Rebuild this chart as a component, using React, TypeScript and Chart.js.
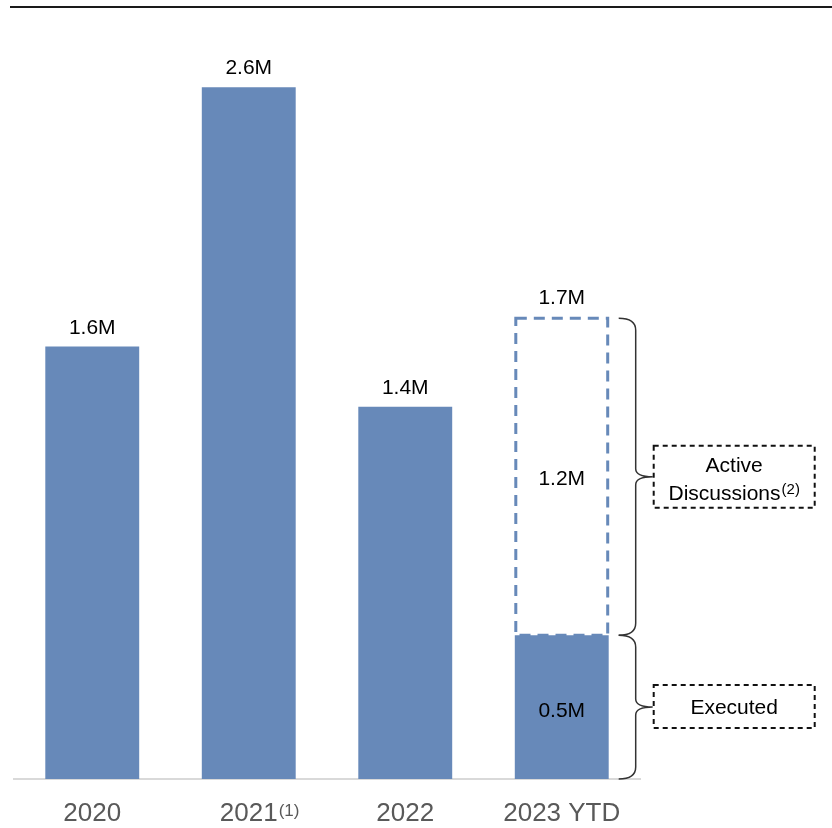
import React, { useEffect, useRef } from "react";
import { Chart, registerables } from "chart.js";

Chart.register(...registerables);

const categories = ["2020", "2021", "2022", "2023 YTD"];
const categoryNotes = ["", "(1)", "", ""];
const executed = [1.624, 2.598, 1.398, 0.54];
const activeDiscussions = [null, null, null, 1.19];
const annotationActive = ["Active", "Discussions"];
const annotationActiveNote = "(2)";
const annotationExecuted = "Executed";

const BAR_COLOR = "#6789B9";
const FONT = "'Liberation Sans', Arial, sans-serif";

const fmt = (v: number) => v.toFixed(1) + "M";

function drawBrace(ctx: CanvasRenderingContext2D, x0: number, yTop: number, yBot: number) {
  const xv = x0 + 17;
  const xt = xv + 17;
  const r = 12;
  const ym = (yTop + yBot) / 2;
  ctx.beginPath();
  ctx.moveTo(x0, yTop);
  ctx.quadraticCurveTo(xv, yTop, xv, yTop + r);
  ctx.lineTo(xv, ym - 8);
  ctx.quadraticCurveTo(xv, ym, xt, ym);
  ctx.quadraticCurveTo(xv, ym, xv, ym + 8);
  ctx.lineTo(xv, yBot - r);
  ctx.quadraticCurveTo(xv, yBot, x0, yBot);
  ctx.stroke();
  return { xt, ym };
}

const customPlugin = {
  id: "custom",
  afterDraw(chart: any) {
    const ctx: CanvasRenderingContext2D = chart.ctx;
    const xScale = chart.scales.x;
    const m0 = chart.getDatasetMeta(0);
    const m1 = chart.getDatasetMeta(1);
    ctx.save();

    // top rule
    ctx.fillStyle = "#1a1a1a";
    ctx.fillRect(10, 6, 822, 2);

    // dashed box for active discussions
    const last = categories.length - 1;
    const dashEl = m1.data[last];
    const exEl = m0.data[last];
    const left = dashEl.x - dashEl.width / 2;
    const right = dashEl.x + dashEl.width / 2;
    ctx.strokeStyle = BAR_COLOR;
    ctx.lineWidth = 3;
    ctx.setLineDash([11, 7]);
    ctx.strokeRect(left + 1, dashEl.y, right - left - 2, dashEl.base - dashEl.y);
    ctx.setLineDash([]);

    // value labels
    ctx.fillStyle = "#000";
    ctx.font = `21px ${FONT}`;
    ctx.textAlign = "center";
    ctx.textBaseline = "alphabetic";
    for (let i = 0; i < categories.length; i++) {
      const el = m0.data[i];
      const act = activeDiscussions[i];
      if (act == null) {
        ctx.fillText(fmt(executed[i]), el.x, el.y - 13);
      } else {
        const top = m1.data[i];
        ctx.fillText(fmt(executed[i] + act), el.x, top.y - 14);
        ctx.fillText(fmt(act), el.x, (top.y + top.base) / 2 + 8);
        ctx.fillText(fmt(executed[i]), el.x, (el.y + el.base) / 2 + 10);
      }
    }

    // x labels
    ctx.fillStyle = "#595959";
    for (let i = 0; i < categories.length; i++) {
      const x = xScale.getPixelForValue(i);
      ctx.font = `26px ${FONT}`;
      ctx.textAlign = "center";
      ctx.fillText(categories[i], x, 821);
      if (categoryNotes[i]) {
        const w = ctx.measureText(categories[i]).width;
        ctx.font = `17px ${FONT}`;
        ctx.textAlign = "left";
        ctx.fillText(categoryNotes[i], x + w / 2 + 1, 816);
      }
    }

    // braces
    ctx.strokeStyle = "#333";
    ctx.lineWidth = 1.5;
    const bx = right + 10;
    const b1 = drawBrace(ctx, bx, dashEl.y, exEl.y);
    const b2 = drawBrace(ctx, bx, exEl.y, exEl.base);

    // annotation boxes
    const boxL = b1.xt + 1;
    const boxW = 161;
    ctx.strokeStyle = "#111";
    ctx.lineWidth = 2;
    ctx.setLineDash([5, 4]);
    ctx.strokeRect(boxL, b1.ym - 31, boxW, 62);
    ctx.strokeRect(boxL, b2.ym - 22, boxW, 43);
    ctx.setLineDash([]);

    ctx.fillStyle = "#000";
    ctx.font = `21px ${FONT}`;
    ctx.textAlign = "center";
    const cx = boxL + boxW / 2;
    ctx.fillText(annotationActive[0], cx, b1.ym - 5);
    const w1 = ctx.measureText(annotationActive[1]).width;
    ctx.font = `15px ${FONT}`;
    const w2 = ctx.measureText(annotationActiveNote).width;
    const startX = cx - (w1 + w2 + 1) / 2;
    ctx.textAlign = "left";
    ctx.font = `21px ${FONT}`;
    ctx.fillText(annotationActive[1], startX, b1.ym + 23);
    ctx.font = `15px ${FONT}`;
    ctx.fillText(annotationActiveNote, startX + w1 + 1, b1.ym + 17);
    ctx.font = `21px ${FONT}`;
    ctx.textAlign = "center";
    ctx.fillText(annotationExecuted, cx, b2.ym + 7);

    ctx.restore();
  },
};

export default function App() {
  const ref = useRef<HTMLCanvasElement | null>(null);
  useEffect(() => {
    if (!ref.current) return;
    const chart = new Chart(ref.current, {
      type: "bar",
      data: {
        labels: categories,
        datasets: [
          {
            label: "Executed",
            data: executed,
            backgroundColor: BAR_COLOR,
            borderWidth: 0,
          },
          {
            label: "Active Discussions",
            data: activeDiscussions as any,
            backgroundColor: "rgba(0,0,0,0)",
            borderWidth: 0,
          },
        ],
      },
      options: {
        animation: false,
        responsive: false,
        maintainAspectRatio: false,
        layout: { padding: { left: 14, right: 192, top: 40, bottom: 49 } },
        plugins: { legend: { display: false }, tooltip: { enabled: false } },
        datasets: { bar: { categoryPercentage: 1, barPercentage: 0.6 } },
        scales: {
          x: {
            stacked: true,
            grid: { display: false, drawTicks: false },
            ticks: { display: false },
            border: { display: true, color: "#d9d9d9", width: 2 },
          },
          y: {
            stacked: true,
            display: false,
            min: 0,
            max: 2.775,
          },
        },
      },
      plugins: [customPlugin],
    });
    return () => chart.destroy();
  }, []);
  return (
    <div style={{ position: "absolute", left: 0, top: 0, width: 832, height: 828, background: "#fff" }}>
      <canvas ref={ref} width={832} height={828} style={{ display: "block" }} />
    </div>
  );
}
